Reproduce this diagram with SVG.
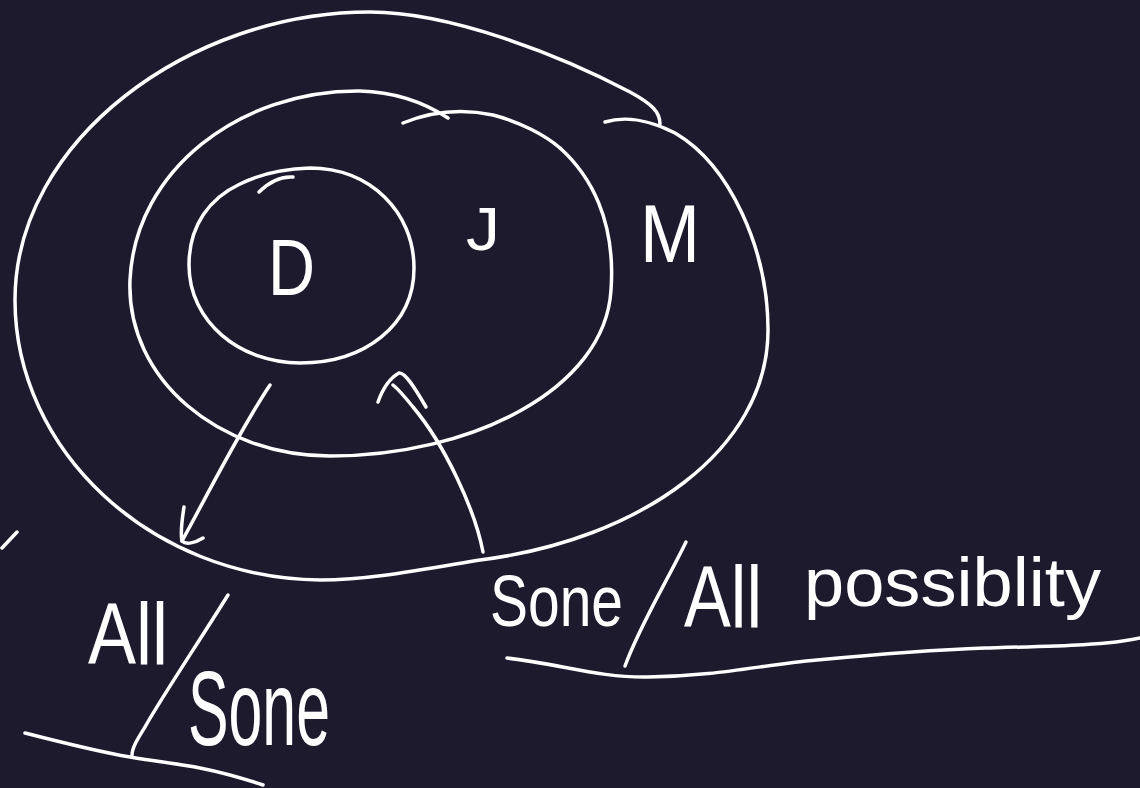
<svg xmlns="http://www.w3.org/2000/svg" width="1140" height="788" viewBox="0 0 1140 788">
<style>
.s{fill:none;stroke:#ffffff;stroke-width:3.5;stroke-linecap:round;stroke-linejoin:round}
.t{fill:#ffffff;font-family:"Liberation Sans",Arial,sans-serif}
</style>
<rect width="1140" height="788" fill="#1d1a2e"/>
<g id="node-M">
<path class="s" d="M 605 122 C 625 116 650 120 675 133 C 730 165 768 250 768 330 C 768 450 640 540 480 560 C 420 570 370 580 320 580 C 150 578 15 450 15 300 C 15 140 190 12 370 12 C 450 12 560 55 630 92 C 652 104 660 112 660 124"/>
<text class="t" x="640" y="262" font-size="82" textLength="60" lengthAdjust="spacingAndGlyphs">M</text>
</g>
<g id="node-J">
<path class="s" d="M 448 118 C 425 103 395 92 360 91 C 240 90 135 170 130 280 C 126 380 220 456 330 456 C 470 456 605 390 611 290 C 616 220 590 175 560 148"/>
<path class="s" d="M 403 123 C 430 112 460 108 493 115 C 520 122 545 135 560 148"/>
<text class="t" x="466" y="250" font-size="62" textLength="34" lengthAdjust="spacingAndGlyphs">J</text>
</g>
<g id="node-D">
<path class="s" d="M 240 184 C 258 175 280 169 310 168 C 370 168 414 212 414 268 C 414 325 365 363 300 363 C 240 363 189 322 189 265 C 189 225 210 198 240 184"/>
<path class="s" d="M 259 192 C 268 183 280 176 293 177"/>
<text class="t" x="268" y="295" font-size="80" textLength="47" lengthAdjust="spacingAndGlyphs">D</text>
</g>
<g id="connectors">
<path class="s" d="M 270 385 C 240 430 210 490 182 541"/>
<path class="s" d="M 184 507 C 182 520 180 532 182 541 C 186 545 195 543 203 538"/>
<path class="s" d="M 483 552 C 475 510 445 445 413 407 C 405 397 398 389 393 385"/>
<path class="s" d="M 378 402 C 383 388 390 378 399 373 C 405 372 415 388 426 407"/>
<path class="s" d="M 2 548 L 17 532"/>
</g>
<g id="label-left">
<text class="t" x="88" y="664" font-size="88" textLength="80" lengthAdjust="spacingAndGlyphs">All</text>
<path class="s" d="M 228 595 C 200 640 160 700 145 727 C 137 740 132 748 132 755"/>
<text class="t" x="188" y="745" font-size="105" textLength="142" lengthAdjust="spacingAndGlyphs">Sone</text>
<path class="s" d="M 25 733 C 60 742 100 752 130 757 C 160 762 180 764 200 768 C 225 773 245 779 263 785"/>
</g>
<g id="label-right">
<text class="t" x="490" y="626" font-size="72" textLength="133" lengthAdjust="spacingAndGlyphs">Sone</text>
<path class="s" d="M 686 542 C 665 585 640 625 625 666"/>
<text class="t" x="684" y="627" font-size="88" textLength="78" lengthAdjust="spacingAndGlyphs">All</text>
<text class="t" x="804" y="606" font-size="68" textLength="297" lengthAdjust="spacingAndGlyphs">possiblity</text>
<path class="s" d="M 507 658 C 560 664 600 678 648 677 C 720 676 760 665 817 660 C 880 654 930 650 985 648 C 1060 646 1110 645 1140 638"/>
</g>
</svg>
